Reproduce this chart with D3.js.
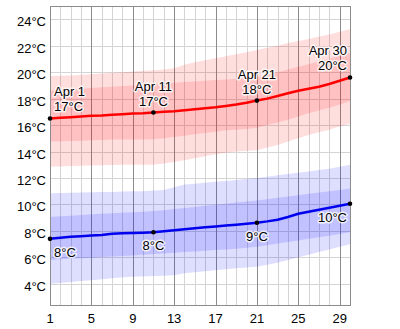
<!DOCTYPE html>
<head>
  <meta charset="utf-8">
  <script src="https://d3js.org/d3.v7.min.js"></script>
  <style>
    body { margin: 0; background: #fff; }
    text { font-family: "Liberation Sans", Arial, sans-serif; }
  </style>
</head>
<body>
<svg width="400" height="329"></svg>
<script>

  let days = [1,2,3,4,5,6,7,8,9,10,11,12,13,14,15,16,17,18,19,20,21,22,23,24,25,26,27,28,29,30];
  let dayTicks = [1,5,9,13,17,21,25,29];
  let tempTicks = [4,6,8,10,12,14,16,18,20,22,24];

  let highMean = [16.5,16.55,16.6,16.65,16.7,16.72,16.78,16.82,16.87,16.9,16.95,17.0,17.05,17.12,17.2,17.27,17.35,17.45,17.55,17.68,17.85,18.0,18.2,18.4,18.6,18.75,18.9,19.1,19.35,19.6];
  let highP90 = [19.7,19.72,19.75,19.8,19.85,19.9,19.95,20.0,20.05,20.1,20.15,20.2,20.3,20.55,20.75,20.9,21.05,21.2,21.35,21.5,21.67,21.85,22.0,22.2,22.35,22.5,22.7,22.85,23.05,23.25];
  let highP75 = [18.6,18.65,18.7,18.75,18.8,18.85,18.9,18.95,19.0,19.05,19.1,19.15,19.2,19.25,19.3,19.35,19.4,19.45,19.5,19.55,19.6,19.8,20.0,20.2,20.4,20.6,20.8,21.0,21.25,21.45];
  let highP25 = [14.75,14.77,14.8,14.82,14.85,14.87,14.9,14.9,14.9,14.9,14.92,15.0,15.1,15.2,15.3,15.4,15.5,15.6,15.65,15.7,15.8,16.0,16.2,16.4,16.65,16.9,17.1,17.3,17.55,17.8];
  let highP10 = [12.85,12.87,12.9,12.92,12.94,12.96,12.98,13.0,13.0,13.0,13.0,13.1,13.2,13.35,13.5,13.65,13.8,13.9,14.0,14.05,14.1,14.3,14.5,14.75,15.0,15.25,15.45,15.65,15.9,16.1];

  let lowMean = [7.4,7.48,7.55,7.6,7.65,7.7,7.78,7.82,7.85,7.87,7.9,7.97,8.05,8.12,8.2,8.27,8.33,8.4,8.47,8.55,8.62,8.72,8.85,9.05,9.3,9.45,9.6,9.75,9.9,10.05];
  let lowP90 = [10.85,10.87,10.88,10.9,10.92,10.94,10.95,10.97,10.99,11.0,11.05,11.1,11.3,11.5,11.57,11.64,11.71,11.78,11.85,11.92,12.0,12.1,12.2,12.3,12.4,12.5,12.6,12.7,12.85,13.0];
  let lowP75 = [9.05,9.1,9.15,9.2,9.25,9.3,9.33,9.37,9.41,9.45,9.5,9.57,9.65,9.73,9.81,9.9,9.98,10.06,10.14,10.22,10.3,10.4,10.5,10.6,10.7,10.8,10.9,11.0,11.1,11.2];
  let lowP25 = [5.8,5.85,5.9,5.94,5.98,6.02,6.06,6.1,6.15,6.2,6.25,6.3,6.35,6.4,6.45,6.5,6.55,6.6,6.65,6.72,6.8,6.92,7.04,7.16,7.28,7.4,7.52,7.64,7.77,7.9];
  let lowP10 = [4.0,4.07,4.14,4.21,4.28,4.35,4.42,4.5,4.53,4.56,4.59,4.62,4.65,4.8,4.87,4.95,5.02,5.1,5.17,5.23,5.3,5.45,5.6,5.8,6.0,6.2,6.4,6.6,6.8,7.0];

  // labelled days: [day index, date text, high text, low text]
  let marks = [
    [0, "Apr 1", "17°C", "8°C"],
    [10, "Apr 11", "17°C", "8°C"],
    [20, "Apr 21", "18°C", "9°C"],
    [29, "Apr 30", "20°C", "10°C"]
  ];

  let svg = d3.select("svg"),
    mLeft = 50, mRight = 350, mTop = 6, mBottom = 305;

  let x = d3.scaleLinear().domain([1, 30]).range([mLeft, mRight]);
  let y = d3.scaleLinear().domain([2.4, 25]).range([mBottom, mTop]);

  // grid
  let grid = svg.append("g");
  grid.selectAll(".hg").data(tempTicks).enter().append("line")
    .attr("x1", mLeft).attr("x2", mRight)
    .attr("y1", d => Math.round(y(d)) + 0.5).attr("y2", d => Math.round(y(d)) + 0.5)
    .attr("stroke", "#d4d4d4");
  grid.selectAll(".vg").data(days).enter().append("line")
    .attr("x1", d => Math.round(x(d)) + 0.5).attr("x2", d => Math.round(x(d)) + 0.5)
    .attr("y1", mTop).attr("y2", mBottom)
    .attr("stroke", d => dayTicks.includes(d) ? "#8c8c8c" : "#d4d4d4");

  function band(lo, hi, color) {
    let area = d3.area()
      .x((d, i) => x(days[i]))
      .y0((d, i) => y(lo[i]))
      .y1((d, i) => y(hi[i]));
    svg.append("path").datum(days).attr("d", area)
      .attr("fill", color).attr("fill-opacity", 0.13);
  }
  band(highP10, highP90, "#ff0000");
  band(highP25, highP75, "#ff0000");
  band(lowP10, lowP90, "#0000ff");
  band(lowP25, lowP75, "#0000ff");

  function drawLine(vals, color) {
    let line = d3.line().x((d, i) => x(days[i])).y(d => y(d));
    svg.append("path").datum(vals).attr("d", line)
      .attr("fill", "none").attr("stroke", color).attr("stroke-width", 2.5);
  }
  drawLine(highMean, "#ff0000");
  drawLine(lowMean, "#0000ee");

  // frame
  svg.append("rect").attr("x", mLeft + 0.5).attr("y", mTop + 0.5)
    .attr("width", mRight - mLeft).attr("height", mBottom - mTop)
    .attr("fill", "none").attr("stroke", "#8c8c8c");

  // dots
  marks.forEach(m => {
    [highMean, lowMean].forEach(s => {
      svg.append("circle").attr("cx", x(days[m[0]])).attr("cy", y(s[m[0]]))
        .attr("r", 2.3).attr("fill", "#000");
    });
  });

  function halo(sel) {
    sel.attr("font-size", 13).attr("fill", "#000")
      .attr("stroke", "#fff").attr("stroke-width", 3).attr("stroke-opacity", 0.8)
      .attr("paint-order", "stroke").attr("stroke-linejoin", "round");
    return sel;
  }

  marks.forEach((m, k) => {
    let i = m[0],
      anchor = k == 0 ? "start" : (k == marks.length - 1 ? "end" : "middle"),
      dx = k == 0 ? 4 : (k == marks.length - 1 ? -3 : 0),
      px = x(days[i]) + dx,
      hy = y(highMean[i]),
      ly = y(lowMean[i]);
    halo(svg.append("text")).attr("x", px).attr("y", hy - 22)
      .attr("text-anchor", anchor).text(m[1]);
    halo(svg.append("text")).attr("x", px).attr("y", hy - 7)
      .attr("text-anchor", anchor).text(m[2]);
    halo(svg.append("text")).attr("x", px).attr("y", ly + 18)
      .attr("text-anchor", anchor).text(m[3]);
  });

  // axis labels
  svg.selectAll(".yl").data(tempTicks).enter().append("text")
    .attr("x", 46).attr("y", d => y(d) + 7)
    .attr("text-anchor", "end").attr("font-size", 13).attr("fill", "#000")
    .text(d => d + "°C");
  svg.selectAll(".xl").data(dayTicks).enter().append("text")
    .attr("x", d => x(d)).attr("y", 323)
    .attr("text-anchor", "middle").attr("font-size", 13).attr("fill", "#000")
    .text(d => d);

</script>
</body>
